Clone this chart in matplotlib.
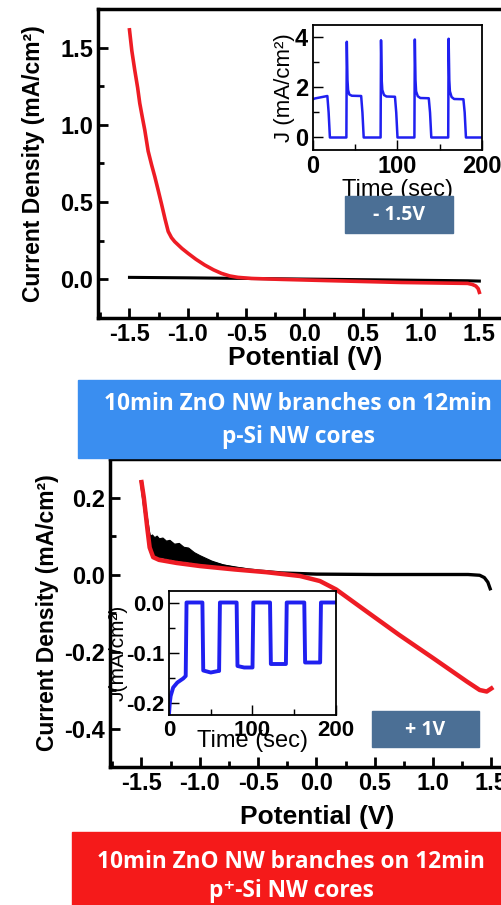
import matplotlib
matplotlib.use("Agg")
import matplotlib.pyplot as plt
from matplotlib.ticker import MultipleLocator, FormatStrFormatter
from matplotlib.patches import Rectangle

plt.rcParams['font.family'] = ['Liberation Sans', 'DejaVu Sans']
plt.rcParams['font.weight'] = 'bold'

# --- J-V sweep, p-Si cores (top panel)
top_v_red = [-1.5, -1.48, -1.455, -1.43, -1.412, -1.39, -1.369, -1.34, -1.31, -1.283, -1.255,
             -1.226, -1.195, -1.168, -1.14, -1.112, -1.05, -0.997,
             -0.93, -0.855, -0.78, -0.712, -0.64, -0.57, -0.455, -0.2, 0.2, 0.83, 1.2, 1.40,
             1.44, 1.47, 1.49, 1.5]
top_j_red = [1.615, 1.48, 1.355, 1.24, 1.14, 1.05, 0.967, 0.83, 0.74, 0.665, 0.58,
             0.49, 0.39, 0.31, 0.27, 0.244, 0.2, 0.168,
             0.13, 0.093, 0.062, 0.039, 0.022, 0.013, 0.006, 0.0, -0.008, -0.02, -0.024, -0.026,
             -0.033, -0.043, -0.06, -0.084]
top_v_black = [-1.5, -1.0, -0.5, 0.0, 0.5, 1.0, 1.4, 1.5]
top_j_black = [0.013, 0.01, 0.006, 0.002, -0.002, -0.006, -0.009, -0.011]

# chopped-light transient at -1.5 V
top_t = [0, 2, 17, 18.5, 20, 39.5, 40, 40.8, 41.5, 43, 46, 57, 58.5, 60,
         80, 80.5, 81.3, 82, 84, 87, 97, 98.5, 100,
         120, 120.5, 121.3, 122, 124, 127, 137, 138.5, 140,
         160, 160.5, 161.3, 162, 164, 167, 178, 179.5, 181, 200]
top_jt = [1.53, 1.56, 1.66, 1.0, 0.0, 0.0, 3.83, 2.3, 1.9, 1.72, 1.67, 1.66, 1.0, 0.0,
          0.0, 3.89, 2.3, 1.9, 1.7, 1.64, 1.63, 1.0, 0.0,
          0.0, 3.92, 2.3, 1.85, 1.65, 1.58, 1.57, 1.0, 0.0,
          0.0, 3.95, 2.3, 1.85, 1.62, 1.54, 1.53, 1.0, 0.0, 0.0]

# --- J-V sweep, p+-Si cores (bottom panel)
bot_v_red = [-1.5, -1.48, -1.45, -1.43, -1.40, -1.35, -1.2, -1.0, -0.7, -0.43, -0.14, 0.03,
             0.17, 0.43, 0.71, 1.0, 1.29, 1.4, 1.46, 1.5]
bot_j_red = [0.24, 0.2, 0.12, 0.07, 0.045, 0.038, 0.03, 0.022, 0.013, 0.006, -0.004, -0.017,
             -0.039, -0.096, -0.157, -0.217, -0.278, -0.30, -0.304, -0.296]
bot_v_black = [-1.5, -1.47, -1.44, -1.42, -1.38, -1.3, -1.2, -1.1, -1.0, -0.9, -0.8, -0.7,
               -0.5, -0.3, 0.0, 0.5, 1.0, 1.3, 1.4, 1.44, 1.47, 1.49]
bot_j_black = [0.24, 0.17, 0.11, 0.085, 0.078, 0.07, 0.06, 0.05, 0.04, 0.03, 0.022, 0.016,
               0.009, 0.004, 0.001, 0.0, 0.0, 0.0, -0.002, -0.008, -0.02, -0.037]
# ragged band of the dark current
band_v = [-1.43, -1.41, -1.39, -1.37, -1.35, -1.32, -1.29, -1.26, -1.22, -1.18, -1.14, -1.1,
          -1.05, -1.0, -0.9, -0.8, -0.6]
band_hi = [0.10, 0.104, 0.097, 0.101, 0.094, 0.096, 0.088, 0.09, 0.08, 0.082, 0.072, 0.07,
           0.058, 0.05, 0.036, 0.026, 0.016]
band_lo = [0.06, 0.05, 0.048, 0.046, 0.045, 0.044, 0.042, 0.04, 0.038, 0.036, 0.035, 0.033,
           0.03, 0.028, 0.024, 0.02, 0.013]

# chopped-light transient at +1 V
bot_t = [0, 1, 2, 5, 10, 17, 20, 21, 40, 41, 50, 59, 60, 61, 81, 82, 90, 100, 101,
         121, 122, 140, 141, 162, 163, 181, 182, 200]
bot_jt = [-0.223, -0.2, -0.187, -0.17, -0.16, -0.152, -0.147, 0.0, 0.0, -0.136, -0.14, -0.137,
          -0.137, 0.0, 0.0, -0.127, -0.13, -0.13, 0.0,
          0.0, -0.123, -0.123, 0.0, 0.0, -0.12, -0.12, 0.0, 0.0]

banner_line1 = "10min ZnO NW branches on 12min"
banner_top = "p-Si NW cores"
banner_bot = "p\u207a-Si NW cores"

W, H = 502, 905
fig = plt.figure(figsize=(W / 100, H / 100), dpi=100)
banner_font = ['Open Sans', 'DejaVu Sans']


def frac(x0, y0, x1, y1):
    return [x0 / W, 1 - y1 / H, (x1 - x0) / W, (y1 - y0) / H]


def style(ax, lw=2.5, size=17, weight='bold'):
    for s in ax.spines.values():
        s.set_linewidth(lw)
    ax.tick_params(which='both', direction='in', width=lw * 0.8, labelsize=size)
    ax.tick_params(which='major', length=7)
    ax.tick_params(which='minor', length=4)
    for lab in ax.get_xticklabels() + ax.get_yticklabels():
        lab.set_fontweight(weight)


# top main axes
ax1 = fig.add_axes(frac(98, 9, 512, 318))
ax1.plot(top_v_black, top_j_black, color='black', lw=2.2)
ax1.plot(top_v_red, top_j_red, color='#ee1c24', lw=2.6)
ax1.set_xlim(-1.77, 1.78)
ax1.set_ylim(-0.25, 1.75)
ax1.xaxis.set_major_locator(MultipleLocator(0.5))
ax1.xaxis.set_minor_locator(MultipleLocator(0.25))
ax1.yaxis.set_major_locator(MultipleLocator(0.5))
ax1.yaxis.set_minor_locator(MultipleLocator(0.25))
ax1.xaxis.set_major_formatter(FormatStrFormatter('%.1f'))
ax1.yaxis.set_major_formatter(FormatStrFormatter('%.1f'))
style(ax1)
ax1.set_xlabel('Potential (V)', fontsize=19, fontweight='bold')
ax1.xaxis.set_label_coords(0.5, -0.13)
ax1.xaxis.label.set_va('center')
ax1.set_ylabel('Current Density (mA/cm\u00b2)', fontsize=16.5, fontweight='bold')
ax1.yaxis.set_label_coords(-0.155, 0.5)
ax1.yaxis.label.set_va('center')

# top inset
in1 = fig.add_axes(frac(313, 25, 482, 150))
in1.plot(top_t, top_jt, color='#2020f0', lw=1.8)
in1.set_xlim(0, 200)
in1.set_ylim(-0.5, 4.5)
in1.xaxis.set_major_locator(MultipleLocator(100))
in1.xaxis.set_minor_locator(MultipleLocator(50))
in1.yaxis.set_major_locator(MultipleLocator(2))
in1.yaxis.set_minor_locator(MultipleLocator(1))
style(in1, lw=1.3, size=17)
in1.set_xlabel('Time (sec)', fontsize=17, fontweight='normal', labelpad=1)
in1.set_ylabel('J (mA/cm\u00b2)', fontsize=16, fontweight='normal', labelpad=0)

fig.patches.append(Rectangle((345 / W, 1 - 233 / H), 108 / W, 37 / H,
                             transform=fig.transFigure, color='#4b6f95', zorder=5))
fig.text(399 / W, 1 - 215 / H, '- 1.5V', color='white', fontsize=14, fontweight='bold',
         family=banner_font, ha='center', va='center', zorder=6)

# blue banner
fig.patches.append(Rectangle((78 / W, 1 - 458 / H), 430 / W, 78 / H,
                             transform=fig.transFigure, color='#3a8ef0', zorder=5))
fig.text(298 / W, 1 - 404 / H, banner_line1, color='white', fontsize=16.3, fontweight='bold',
         family=banner_font, ha='center', va='center', zorder=6)
fig.text(298 / W, 1 - 437 / H, banner_top, color='white', fontsize=16.3, fontweight='bold',
         family=banner_font, ha='center', va='center', zorder=6)

# bottom main axes
ax2 = fig.add_axes(frac(110, 459, 524, 767))
ax2.fill_between(band_v, band_lo, band_hi, color='black', lw=0.8)
ax2.plot(bot_v_black, bot_j_black, color='black', lw=2.4)
ax2.plot(bot_v_red, bot_j_red, color='#ee1c24', lw=3.2)
ax2.set_xlim(-1.77, 1.78)
ax2.set_ylim(-0.5, 0.3)
ax2.xaxis.set_major_locator(MultipleLocator(0.5))
ax2.xaxis.set_minor_locator(MultipleLocator(0.25))
ax2.yaxis.set_major_locator(MultipleLocator(0.2))
ax2.yaxis.set_minor_locator(MultipleLocator(0.1))
ax2.xaxis.set_major_formatter(FormatStrFormatter('%.1f'))
ax2.yaxis.set_major_formatter(FormatStrFormatter('%.1f'))
style(ax2)
ax2.set_xlabel('Potential (V)', fontsize=19, fontweight='bold')
ax2.xaxis.set_label_coords(0.5, -0.162)
ax2.xaxis.label.set_va('center')
ax2.set_ylabel('Current Density (mA/cm\u00b2)', fontsize=16.5, fontweight='bold')
ax2.yaxis.set_label_coords(-0.15, 0.5)
ax2.yaxis.label.set_va('center')

# bottom inset
in2 = fig.add_axes(frac(169, 591, 336, 715))
in2.plot(bot_t, bot_jt, color='#2020f0', lw=2.8)
in2.set_xlim(0, 200)
in2.set_ylim(-0.225, 0.023)
in2.xaxis.set_major_locator(MultipleLocator(100))
in2.xaxis.set_minor_locator(MultipleLocator(50))
in2.yaxis.set_major_locator(MultipleLocator(0.1))
in2.yaxis.set_minor_locator(MultipleLocator(0.05))
in2.yaxis.set_major_formatter(FormatStrFormatter('%.1f'))
style(in2, lw=1.3, size=16)
in2.set_xlabel('Time (sec)', fontsize=17, fontweight='normal', labelpad=-8)
in2.set_ylabel('J(mA/cm\u00b2)', fontsize=15, fontweight='normal')
in2.yaxis.set_label_coords(-0.25, 0.5)

fig.patches.append(Rectangle((372 / W, 1 - 747 / H), 107 / W, 36 / H,
                             transform=fig.transFigure, color='#4b6f95', zorder=5))
fig.text(425 / W, 1 - 730 / H, '+ 1V', color='white', fontsize=14, fontweight='bold',
         family=banner_font, ha='center', va='center', zorder=6)

# red banner
fig.patches.append(Rectangle((72 / W, 0), 440 / W, 73 / H,
                             transform=fig.transFigure, color='#f51a1a', zorder=5))
fig.text(291 / W, 1 - 862 / H, banner_line1, color='white', fontsize=16.3, fontweight='bold',
         family=banner_font, ha='center', va='center', zorder=6)
fig.text(291 / W, 1 - 891 / H, banner_bot, color='white', fontsize=16.3, fontweight='bold',
         family=banner_font, ha='center', va='center', zorder=6)

fig.savefig('out.png', dpi=100)
